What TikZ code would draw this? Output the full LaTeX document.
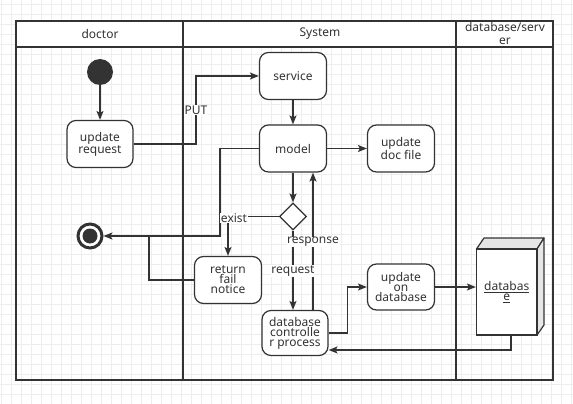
\documentclass[tikz,border=0pt]{standalone}
\usepackage{fontspec}
\setmainfont{Noto Sans}
\usetikzlibrary{arrows.meta,shapes.geometric}
\definecolor{ln}{HTML}{333333}
\definecolor{gridc}{HTML}{EDEDED}
\definecolor{side}{HTML}{E6E6E6}
\tikzset{
  act/.style={draw=ln, line width=1.2pt, rounded corners=9pt, fill=white,
    minimum width=67pt, minimum height=47pt, inner sep=0pt, align=center,
    font=\fontsize{12}{10}\selectfont, text=ln},
  lbl/.style={fill=white, inner sep=0.6pt, font=\fontsize{12}{12}\selectfont, text=ln},
  conn/.style={draw=ln, line width=1.2pt, -{Stealth[length=9pt,width=7pt,inset=2pt]}},
  plain/.style={draw=ln, line width=1.2pt},
  lane/.style={draw=ln, line width=1.3pt},
  head/.style={font=\fontsize{12}{13}\selectfont, text=ln, align=center, inner sep=0pt}
}
\begin{document}
\begin{tikzpicture}[x=1pt,y=-1pt]
\useasboundingbox (0,0) rectangle (573,404);
\fill[white] (0,0) rectangle (573,404);
% grid
\foreach \i in {1,11,...,571} \draw[gridc, line width=0.6pt] (\i,0) -- (\i,404);
\foreach \j in {4,14,...,404} \draw[gridc, line width=0.6pt] (0,\j) -- (573,\j);
% swimlanes
\fill[white] (16,21) rectangle (553,47);
\draw[lane] (16,21) rectangle (553,380);
\draw[lane] (16,47) -- (553,47);
\draw[lane] (183,21) -- (183,380);
\draw[lane] (456,21) -- (456,380);
\node[head] (hdoc) at (100,34) {doctor};
\node[head] (hsys) at (320,34) {System};
\node[head] (hdb) at (505,34) {database/serv\\er};
% nodes
\node[circle, fill=ln, minimum size=26pt, inner sep=0pt] (start) at (100,72) {};
\node[act, minimum width=66pt] (ureq) at (100,144) {update\\request};
\node[act] (service) at (293,76) {service};
\node[act] (model) at (293,148.5) {model};
\node[act] (docfile) at (401,148.5) {update\\doc file};
\node[diamond, draw=ln, line width=1.2pt, fill=white, minimum width=27pt, minimum height=27pt, inner sep=0pt] (dia) at (293,216.5) {};
\node[act] (ret) at (228,280) {return\\fail\\notice};
\node[act, minimum width=66pt, minimum height=45pt] (ctrl) at (295,333) {database\\controlle\\r process};
\node[act, minimum height=46pt] (updb) at (401,287) {update\\on\\database};
\node[circle, draw=ln, line width=3pt, fill=white, minimum size=24pt, inner sep=0pt] (endc) at (90,236) {};
\node[circle, fill=ln, minimum size=15pt, inner sep=0pt] (endin) at (90,236) {};
% database 3D box
\fill[side, draw=ln, line width=1.2pt, line join=round] (476.5,249) -- (484,238) -- (544,238) -- (537,249) -- cycle;
\fill[side, draw=ln, line width=1.2pt, line join=round] (537,249) -- (544,238) -- (544,325) -- (537,335) -- cycle;
\node[draw=ln, line width=1.2pt, fill=white, minimum width=60.5pt, minimum height=86pt, inner sep=0pt,
  align=center, font=\fontsize{12}{10}\selectfont, text=ln] (db) at (506.75,292) {\underline{databas}\\\underline{e}};
% coordinates
\coordinate (putx) at (196,0);
\coordinate (j1) at (220,236);
\coordinate (j2) at (149,236);
\coordinate (rx) at (313,0);
\coordinate (r1) at (511,350);
% connectors
\draw[conn] (start) -- (ureq);
\draw[conn] (ureq.east) -- (putx |- ureq.east) |- (service.west);
\draw[conn] (service) -- (model);
\draw[conn] (model) -- (docfile);
\draw[conn] (model.west) -| (j1) -- (endc);
\draw[plain] (ret.west) -| (j2);
\draw[conn] (model.south) -- (dia.north);
\draw[conn] (dia.west) -| (ret.north);
\draw[conn] (dia.south) -- (dia.south |- ctrl.north);
\draw[conn] (rx |- ctrl.north) -- (rx |- model.south);
\draw[conn] (ctrl.east) -- ++(19,0) |- (updb.west);
\draw[conn] (updb.east) -- (updb.east -| db.west);
\draw[conn] (r1 |- db.south) -- (r1) -- (r1 -| ctrl.east);
% labels
\node[lbl] (put) at (196,110) {PUT};
\node[lbl] (exist) at (234,218) {exist};
\node[lbl] (resp) at (313,242) {response};
\node[lbl] (req) at (293,271) {request};
\end{tikzpicture}
\end{document}
